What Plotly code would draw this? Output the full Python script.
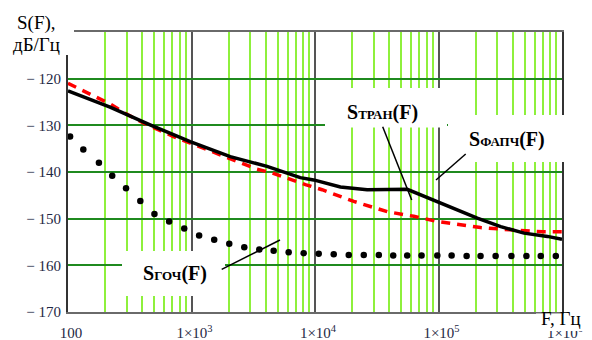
import plotly.graph_objects as go

# ---------------- data ----------------
F_fapch = [100, 219, 462, 975, 2060, 4090, 7600, 9750, 16060, 26440, 55800,
           97800, 206000, 319000, 493000, 762000, 1000000]
S_fapch = [-122.6, -126.1, -129.9, -133.5, -136.7, -138.8, -141.2, -141.7,
           -143.2, -143.8, -143.7, -146.3, -149.9, -151.7, -153.1, -153.8, -154.4]

F_tran = [100, 160, 219, 299, 408, 715, 975, 1418, 1818, 2483, 3390, 4486,
          6120, 8360, 11420, 20600, 38500, 63100, 97700, 219000, 385000,
          695000, 1000000]
S_tran = [-121.0, -123.6, -125.4, -127.6, -129.5, -132.4, -133.8, -135.4,
          -136.7, -138.1, -139.4, -140.2, -141.5, -142.7, -143.8, -146.3,
          -148.5, -149.5, -150.6, -151.9, -152.4, -152.8, -152.8]

F_goch = [104, 133, 178, 228, 295, 385, 501, 659, 873, 1153, 1527, 2022,
          2675, 3540, 4625, 6120, 8095, 10720, 14180, 18760, 24830, 32870,
          42980, 55800, 72900, 97800, 127700, 169000, 219000, 290000, 389000,
          515000, 673000, 891000]
S_goch = [-132.4, -135.2, -138.0, -140.8, -143.5, -146.2, -149.0, -150.6,
          -152.1, -153.6, -154.5, -155.4, -156.1, -156.6, -156.9, -157.2,
          -157.4, -157.5, -157.6, -157.8, -157.8, -157.8, -157.9, -157.9,
          -157.9, -157.9, -157.9, -158.0, -158.0, -158.0, -158.0, -158.0,
          -158.0, -158.0]

x_tickvals = [100, 1e3, 1e4, 1e5, 1e6]
x_ticktext = ["100", "1×10<sup>3</sup>", "1×10<sup>4</sup>", "1×10<sup>5</sup>", "1×10<sup>6</sup>"]
y_tickvals = [-170, -160, -150, -140, -130, -120]
y_ticktext = ["− 170", "− 160", "− 150", "− 140", "− 130", "− 120"]

# ---------------- figure ----------------
W, H = 592, 340
ML, MR, MT, MB = 68, 30, 32, 28
PW, PH = W - ML - MR, H - MT - MB

def px(xp):
    return (xp - ML) / PW

def py(yp):
    return (H - MB - yp) / PH

FONT = "Liberation Serif"

fig = go.Figure()
fig.add_trace(go.Scatter(x=F_goch, y=S_goch, mode="markers",
                         marker=dict(color="black", size=6.5), showlegend=False,
                         hoverinfo="skip"))
fig.add_trace(go.Scatter(x=F_tran, y=S_tran, mode="lines",
                         line=dict(color="#ff0000", width=3.5, dash="9px,7px"),
                         showlegend=False, hoverinfo="skip"))
fig.add_trace(go.Scatter(x=F_fapch, y=S_fapch, mode="lines",
                         line=dict(color="black", width=3.5),
                         showlegend=False, hoverinfo="skip"))

minor_vals = [m * 10 ** k for k in range(2, 6) for m in range(2, 10)]

fig.update_xaxes(type="log", range=[2, 6], tickvals=x_tickvals, ticktext=x_ticktext,
                 automargin=False,
                 showgrid=True, gridcolor="#555555", gridwidth=2,
                 minor=dict(tickvals=minor_vals, showgrid=True, gridcolor="#8ef03c",
                            gridwidth=1.8, ticks=""),
                 showline=True, linecolor="#6a6a6a", linewidth=2, mirror=True,
                 zeroline=False, ticks="", ticklabelshift=3, ticklabelstandoff=6,
                 tickfont=dict(family=FONT, size=15, color="#1e2844"))
fig.update_yaxes(range=[-170, -110], tickvals=y_tickvals, ticktext=y_ticktext,
                 automargin=False,
                 showgrid=True, gridcolor="#1f8a1f", gridwidth=1.5,
                 showline=True, linecolor="#333333", linewidth=2, mirror=True,
                 zeroline=False, ticks="", ticklabelstandoff=2,
                 tickfont=dict(family=FONT, size=15, color="#1e2844"))

# white label boxes that cover the grid (as in the original)
boxes = [(0, 74, 0, 55), (325, 447, 88, 127.5), (448, 567, 115, 162),
         (122, 225, 251, 296), (536, 592, 313.5, 331)]
shapes = []
for x0, x1, y0, y1 in boxes:
    shapes.append(dict(type="rect", xref="paper", yref="paper", layer="above",
                       x0=px(x0), x1=px(x1), y0=py(y1), y1=py(y0),
                       fillcolor="white", line=dict(width=0)))
# pointer lines
pointers = [(382.7, 126.7, 411.7, 200), (465.7, 154, 436, 180), (221.7, 269.3, 280, 240)]
for x0, y0, x1, y1 in pointers:
    shapes.append(dict(type="line", xref="paper", yref="paper", layer="above",
                       x0=px(x0), y0=py(y0), x1=px(x1), y1=py(y1),
                       line=dict(color="black", width=1.5)))

def ann(text, xp, yp, size):
    return dict(text=text, xref="paper", yref="paper", x=px(xp), y=py(yp),
                xanchor="center", yanchor="middle", showarrow=False,
                font=dict(family=FONT, size=size, color="black"))

annotations = [
    ann("S(F),", 36, 23, 19),
    ann("дБ/Гц", 36, 45, 19),
    ann("F, Гц", 561, 318, 19),
    ann('<b>S<span style="font-size:13px">ТРАН</span>(F)</b>', 382.5, 112, 20),
    ann('<b>S<span style="font-size:13px">ФАПЧ</span>(F)</b>', 507, 139, 20),
    ann('<b>S<span style="font-size:13px">ГОЧ</span>(F)</b>', 175, 273, 20),
]

fig.update_layout(template="none", width=W, height=H,
                  margin=dict(l=ML, r=MR, t=MT, b=MB, autoexpand=False),
                  plot_bgcolor="white", paper_bgcolor="white",
                  shapes=shapes, annotations=annotations,
                  font=dict(family=FONT), showlegend=False)

fig.write_html("out.html", config={"displayModeBar": False},
               post_script="document.body.style.margin='0px';")
